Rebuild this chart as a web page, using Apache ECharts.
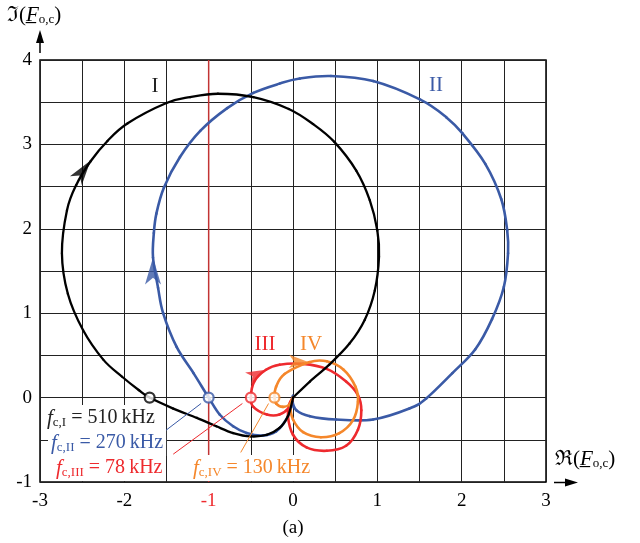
<!DOCTYPE html>
<html><head><meta charset="utf-8">
<script src="https://cdn.jsdelivr.net/npm/echarts@6/dist/echarts.min.js"></script>
<style>html,body{margin:0;padding:0;background:#fff}#c{width:640px;height:543px}</style>
</head><body><div id="c"></div>
<script>
// ---------- data ----------
const xTickLabels = ['-3','-2','-1','0','1','2','3'];
const yTickLabels = ['-1','0','1','2','3','4'];
const criticalX = -1;

const curveI = [
  [0.00,0.00],[-0.01,-0.05],[-0.06,-0.22],[-0.16,-0.36],[-0.31,-0.44],[-0.50,-0.46],
  [-0.71,-0.42],[-0.91,-0.34],[-1.14,-0.24],[-1.42,-0.13],[-1.70,0.00],[-1.83,0.09],
  [-2.03,0.25],[-2.25,0.45],[-2.49,0.80],[-2.67,1.23],[-2.74,1.71],[-2.68,2.22],
  [-2.57,2.52],[-2.40,2.80],[-2.20,3.04],[-1.96,3.25],[-1.50,3.49],[-1.22,3.56],
  [-0.89,3.60],[-0.47,3.56],[-0.05,3.42],[0.24,3.24],[0.49,3.03],[0.75,2.69],
  [0.91,2.34],[1.00,1.98],[1.02,1.67],[0.97,1.27],[0.85,0.92],[0.67,0.64],
  [0.43,0.39],[0.20,0.19],[0.00,0.00]
];
const curveII = [
  [0.00,0.02],[-0.02,-0.11],[-0.08,-0.26],[-0.20,-0.40],[-0.36,-0.45],[-0.55,-0.42],
  [-0.71,-0.34],[-0.87,-0.20],[-1.00,0.00],[-1.18,0.29],[-1.38,0.60],[-1.54,1.00],
  [-1.60,1.30],[-1.66,1.66],[-1.65,1.95],[-1.62,2.18],[-1.53,2.49],[-1.34,2.85],
  [-1.10,3.16],[-0.78,3.43],[-0.47,3.61],[-0.16,3.72],[0.08,3.78],[0.45,3.81],
  [0.95,3.75],[1.51,3.53],[1.82,3.32],[2.01,3.13],[2.28,2.77],[2.47,2.35],
  [2.54,1.98],[2.55,1.71],[2.50,1.31],[2.36,0.93],[2.16,0.57],[1.89,0.29],
  [1.58,-0.01],[1.38,-0.13],[0.95,-0.26],[0.51,-0.26],[0.20,-0.22],[0.04,-0.15],
  [-0.01,-0.03],[0.00,0.02]
];
const curveIII = [
  [0.00,0.00],[-0.04,-0.11],[-0.16,-0.20],[-0.31,-0.20],[-0.47,-0.11],[-0.50,0.00],
  [-0.46,0.19],[-0.32,0.33],[-0.16,0.39],[0.12,0.40],[0.40,0.34],[0.63,0.19],
  [0.77,0.03],[0.81,-0.15],[0.77,-0.38],[0.63,-0.57],[0.40,-0.63],[0.16,-0.59],
  [0.00,-0.44],[-0.06,-0.22],[-0.04,-0.07],[0.00,0.00]
];
const curveIV = [
  [0.00,0.00],[-0.04,-0.08],[-0.12,-0.11],[-0.20,-0.07],[-0.22,0.00],[-0.20,0.13],
  [-0.10,0.28],[0.19,0.42],[0.40,0.43],[0.60,0.33],[0.74,0.13],[0.77,-0.05],
  [0.71,-0.27],[0.55,-0.42],[0.33,-0.47],[0.12,-0.41],[0.00,-0.26],[-0.03,-0.10],
  [0.00,0.00]
];
// crossing markers (f_c points) on the real axis
const crossI = [[-1.70,0]];
const crossII = [[-1.00,0]];
const crossIII = [[-0.50,0]];
const crossIV = [[-0.22,0]];
// direction arrows
const arrowI = [[-2.40,2.81]];
const arrowII = [[-1.66,1.66]];
const arrowIII = [[-0.32,0.33]];
const arrowIV = [[0.19,0.42]];
// leader lines of the f_c annotations
const leaderII = [[-1.51,-0.39],[-1.09,-0.07]];
const leaderIII = [[-1.42,-0.67],[-0.60,-0.07]];
const leaderIV = [[-0.62,-0.65],[-0.29,-0.07]];

// ---------- styling ----------
const FONT = '"Liberation Serif","Times New Roman",serif';
const C_BLACK = '#000000', C_BLUE = '#3a5aa6', C_RED = '#ee2a2e', C_ORANGE = '#f5872b', C_CRIT = '#c23434';

// smooth curve: the read points are mapped through the axis scales (api.coord)
// and joined with Catmull-Rom Bezier segments
function curve(data, color, width, z) {
  return {type:'custom', data, z, silent:true, animation:false, clip:false,
    encode:{x:0, y:1},
    renderItem:function (params, api) {
      if (params.dataIndex !== 0) return null;
      const p = data.map(d => api.coord(d));
      const n = p.length, segs = [];
      for (let i = 0; i < n - 1; i++) {
        const p0 = p[i > 0 ? i - 1 : i], p1 = p[i], p2 = p[i + 1], p3 = p[i + 2 < n ? i + 2 : i + 1];
        segs.push({type:'bezierCurve', silent:true,
          shape:{x1:p1[0], y1:p1[1], x2:p2[0], y2:p2[1],
            cpx1:p1[0] + (p2[0] - p0[0]) / 6, cpy1:p1[1] + (p2[1] - p0[1]) / 6,
            cpx2:p2[0] - (p3[0] - p1[0]) / 6, cpy2:p2[1] - (p3[1] - p1[1]) / 6},
          style:{stroke:color, lineWidth:width, fill:'none', lineCap:'round'}});
      }
      return {type:'group', children:segs};
    }};
}
function arrow(data, color, size, rot) {
  return {type:'scatter', data, symbol:'arrow', symbolSize:size, symbolRotate:rot,
    itemStyle:{color, borderWidth:0}, z:6, silent:true, animation:false};
}
function marker(data, color) {
  return {type:'scatter', data, symbol:'circle', symbolSize:10,
    itemStyle:{color:'#fff', borderColor:color, borderWidth:2.2}, z:7, silent:true, animation:false};
}
function leader(data, color) {
  return {type:'line', data, symbol:'none', lineStyle:{color, width:1}, z:8, silent:true, animation:false};
}
function fcLabel(x, y, color, sub, rest) {
  return {type:'text', x, y, z:20, style:{
    text:'{f|f}{s|' + sub + '}{t|' + rest + '}',
    align:'left', verticalAlign:'middle', textAlign:'left', textVerticalAlign:'middle',
    backgroundColor:'#fff', padding:[2,3],
    rich:{
      f:{fontFamily:FONT, fontSize:21, fontStyle:'italic', fill:color, color:color, lineHeight:22, verticalAlign:'middle'},
      s:{fontFamily:FONT, fontSize:13, fill:color, color:color, lineHeight:14, verticalAlign:'bottom'},
      t:{fontFamily:FONT, fontSize:20, fill:color, color:color, lineHeight:22, verticalAlign:'middle'}
    }}};
}
function romanLabel(x, y, color, txt) {
  return {type:'text', x, y, z:20, style:{text:txt, fill:color, font:'21px ' + FONT,
    align:'center', verticalAlign:'middle', textAlign:'center', textVerticalAlign:'middle'}};
}
function axisTitle(x, y, sym) {
  return {type:'text', x, y, z:20, style:{
    text:'{r|' + sym + '(}{F|F\u0332}{s|o,c}{r|)}',
    align:'left', verticalAlign:'middle', textAlign:'left', textVerticalAlign:'middle',
    rich:{
      r:{fontFamily:FONT, fontSize:21, fill:'#000', color:'#000', lineHeight:22},
      F:{fontFamily:FONT, fontSize:21, fontStyle:'italic', fill:'#000', color:'#000', lineHeight:22},
      s:{fontFamily:FONT, fontSize:13, fill:'#000', color:'#000', lineHeight:14, verticalAlign:'bottom'}
    }}};
}

const chart = echarts.init(document.getElementById('c'), null, {renderer:'canvas'});
const intLabel = (labels, v) => {
  const n = Number(v);
  if (!Number.isInteger(n)) return '';
  const s = String(n);
  return labels.indexOf(s) >= 0 ? s : '';
};

chart.setOption({
  animation:false,
  backgroundColor:'#fff',
  grid:{left:40, right:94, top:60, bottom:61, show:true, borderColor:'#000', borderWidth:1.5, backgroundColor:'transparent'},
  xAxis:{type:'value', min:-3, max:3, interval:0.5,
    axisLine:{show:false}, axisTick:{show:false},
    splitLine:{show:true, lineStyle:{color:'#222', width:1}},
    axisLabel:{margin:10, fontFamily:FONT, fontSize:19,
      formatter:v => intLabel(xTickLabels, v),
      color:v => (Number(v) === criticalX ? C_RED : '#000')}},
  yAxis:{type:'value', min:-1, max:4, interval:0.5,
    axisLine:{show:false}, axisTick:{show:false},
    splitLine:{show:true, lineStyle:{color:'#222', width:1}},
    axisLabel:{margin:8, fontFamily:FONT, fontSize:19, color:'#000',
      formatter:v => intLabel(yTickLabels, v)}},
  series:[
    {type:'line', data:[[criticalX,-1],[criticalX,4]], symbol:'none', lineStyle:{color:C_CRIT, width:1.5}, z:1, silent:true, animation:false},
    curve(curveII, C_BLUE, 2.6, 2),
    curve(curveIII, C_RED, 2.6, 3),
    curve(curveIV, C_ORANGE, 2.6, 4),
    curve(curveI, C_BLACK, 2.3, 5),
    arrow(arrowI, C_BLACK, [11,25], -36),
    arrow(arrowII, C_BLUE, [12,27], 0),
    arrow(arrowIII, C_RED, [10,20], -64),
    arrow(arrowIV, C_ORANGE, [10,20], -92),
    marker(crossI, C_BLACK),
    marker(crossII, C_BLUE),
    marker(crossIII, C_RED),
    marker(crossIV, C_ORANGE),
    leader(leaderII, C_BLUE),
    leader(leaderIII, C_RED),
    leader(leaderIV, C_ORANGE)
  ],
  graphic:[
    fcLabel(44, 418, '#222', 'c,I', ' = 510\u2009kHz'),
    fcLabel(48, 443, C_BLUE, 'c,II', ' = 270\u2009kHz'),
    fcLabel(53, 468, C_RED, 'c,III', ' = 78\u2009kHz'),
    fcLabel(190, 468, C_ORANGE, 'c,IV', ' = 130\u2009kHz'),
    romanLabel(155, 86, '#222', 'I'),
    romanLabel(436, 85, C_BLUE, 'II'),
    romanLabel(265, 344, C_RED, 'III'),
    romanLabel(311, 344, C_ORANGE, 'IV'),
    axisTitle(7, 15, '\u2111'),
    axisTitle(555, 459, '\u211C'),
    {type:'text', x:293, y:528, z:20, style:{text:'(a)', fill:'#000', font:'19px ' + FONT,
      align:'center', verticalAlign:'middle', textAlign:'center', textVerticalAlign:'middle'}},
    // axis arrows
    {type:'line', z:20, shape:{x1:40, y1:53, x2:40, y2:40}, style:{stroke:'#000', lineWidth:1.5}},
    {type:'polygon', z:20, shape:{points:[[40,30],[36,43],[44,43]]}, style:{fill:'#000'}},
    {type:'line', z:20, shape:{x1:554, y1:482.5, x2:566, y2:482.5}, style:{stroke:'#000', lineWidth:1.5}},
    {type:'polygon', z:20, shape:{points:[[578,482.5],[565,478.5],[565,486.5]]}, style:{fill:'#000'}}
  ]
});
</script></body></html>
